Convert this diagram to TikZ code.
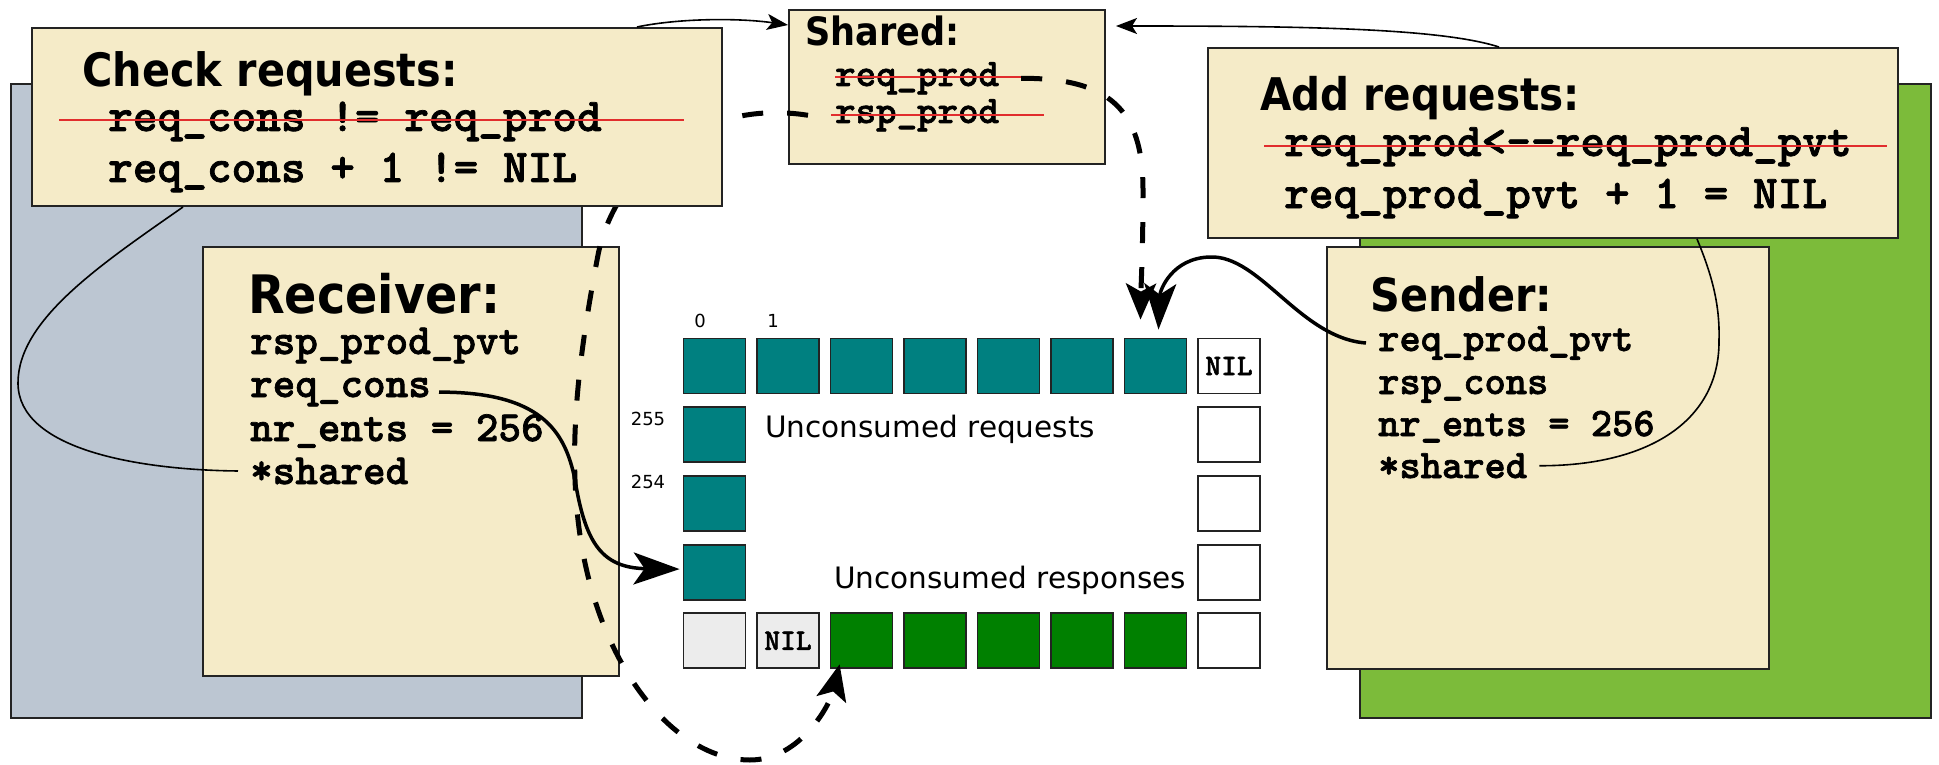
\documentclass[tikz,border=0pt]{standalone}
\usepackage{fontspec}
\usetikzlibrary{arrows.meta,calc}
\newfontfamily\hdfont{DejaVu Sans}[FakeStretch=0.9]
\newfontfamily\lblfont{DejaVu Sans}
\newfontfamily\codefont{lmmonolt10-bold.otf}[FakeBold=1.6]
\definecolor{paper}{RGB}{245,235,200}
\definecolor{rxbg}{RGB}{188,198,210}
\definecolor{txbg}{RGB}{124,187,58}
\definecolor{reqcell}{RGB}{0,128,128}
\definecolor{rspcell}{RGB}{0,128,0}
\definecolor{freecell}{RGB}{236,236,236}
\definecolor{edge}{RGB}{35,35,35}
\definecolor{strikered}{RGB}{225,45,45}
\begin{document}
\begin{tikzpicture}[x=1pt,y=-1pt,
  panel/.style={draw=edge,line width=2pt,anchor=north west,inner sep=0pt},
  head/.style={anchor=base west,inner sep=0pt,font=\hdfont\bfseries\fontsize{#1}{#1}\selectfont},
  code/.style={anchor=base west,inner sep=0pt,font=\codefont\fontsize{#1}{#1}\selectfont},
  cell/.style={draw=edge,line width=1.8pt,anchor=north west,minimum width=62pt,minimum height=55pt,inner sep=0pt,
    font=\codefont\fontsize{30}{30}\selectfont},
  idx/.style={inner sep=0pt,font=\lblfont\fontsize{18}{18}\selectfont},
  ringtext/.style={anchor=base west,inner sep=0pt,font=\lblfont\fontsize{29.5}{29.5}\selectfont},
  strikeout/.style={draw=strikered,line width=1.6pt},
  thinline/.style={draw=black,line width=1.6pt},
  thinarrow/.style={thinline,-{Stealth[length=21pt,width=16pt,inset=5pt]}},
  thickarrow/.style={draw=black,line width=3.5pt,-{Stealth[length=46pt,width=32pt,inset=11pt]}},
  dasharrow/.style={draw=black,line width=5pt,dash pattern=on 21pt off 24pt,-{Stealth[length=36pt,width=30pt,inset=8pt]}}
]
\useasboundingbox (0,0) rectangle (1939,765);

% side panels
\node[panel,fill=rxbg,minimum width=571pt,minimum height=634pt] (rxpanel) at (10,83) {};
\node[panel,fill=txbg,minimum width=571pt,minimum height=634pt] (txpanel) at (1359,83) {};

% receiver / sender / shared / add notes
\node[panel,fill=paper,minimum width=416pt,minimum height=429pt] (rx) at (202,246) {};
\node[panel,fill=paper,minimum width=442pt,minimum height=422pt] (tx) at (1326,246) {};
\node[panel,fill=paper,minimum width=316pt,minimum height=154pt] (sh) at (788,9) {};
\node[panel,fill=paper,minimum width=690pt,minimum height=190pt] (add) at (1207,47) {};

% ring of slots
\foreach \i in {0,...,6} \node[cell,fill=reqcell] (c\i-0) at ({682.6+73.5*\i},337.6) {};
\node[cell,fill=white] (c7-0) at (1197.1,337.6) {NIL};
\foreach \j in {1,2,3} {
  \node[cell,fill=reqcell] (c0-\j) at (682.6,{337.6+68.7*\j}) {};
  \node[cell,fill=white] (c7-\j) at (1197.1,{337.6+68.7*\j}) {};
}
\node[cell,fill=freecell] (c0-4) at (682.6,612.4) {};
\node[cell,fill=freecell] (c1-4) at (756.1,612.4) {NIL};
\foreach \i in {2,...,6} \node[cell,fill=rspcell] (c\i-4) at ({682.6+73.5*\i},612.4) {};
\node[cell,fill=white] (c7-4) at (1197.1,612.4) {};

\node[idx] (i0) at (700,321) {0};
\node[idx] (i1) at (773,321) {1};
\node[idx] (i255) at (648,419) {255};
\node[idx] (i254) at (648,482) {254};
\node[ringtext] (ureq) at (765,437) {Unconsumed requests};
\node[ringtext] (ursp) at (834,588) {Unconsumed responses};

% texts of the notes
\node[head=39] (shh) at (805,46) {Shared:};
\node[code=39] (sh1) at (835,86) {req\_prod};
\node[code=39] (sh2) at (835,123) {rsp\_prod};
\draw[strikeout] (835,77) -- (1036,77);
\draw[strikeout] (831,115) -- (1044,115);

\node[head=45] (addh) at (1260,111) {Add requests:};
\node[code=47] (add1) at (1284,156) {req\_prod<-{}-req\_prod\_pvt};
\node[code=47] (add2) at (1284,208) {req\_prod\_pvt + 1 = NIL};
\draw[strikeout] (1264,146) -- (1887,146);

\node[head=53] (rxh) at (248,313) {Receiver:};
\node[code=43] (rx1) at (250,354) {rsp\_prod\_pvt};
\node[code=43] (rx2) at (250,397) {req\_cons};
\node[code=43] (rx3) at (250,441) {nr\_ents = 256};
\node[code=43] (rx4) at (250,484) {*shared};

\node[head=46] (txh) at (1370,311) {Sender:};
\node[code=40.5] (tx1) at (1378,351) {req\_prod\_pvt};
\node[code=40.5] (tx2) at (1378,394) {rsp\_cons};
\node[code=40.5] (tx3) at (1378,436) {nr\_ents = 256};
\node[code=40.5] (tx4) at (1378,478) {*shared};

% response producer path, running beneath the check note
\draw[dasharrow] ($(sh2.west)+(-27,0)$) .. controls (700,98) and (615,170) .. (598,255)
  .. controls (580,350) and (563,460) .. (585,563)
  .. controls (610,680) and (680,760) .. (750,760)
  .. controls (800,760) and (830,705) .. ($(c2-4.south west)+(10,-5)$);

% check note
\node[panel,fill=paper,minimum width=690pt,minimum height=178pt] (chk) at (31,27) {};
\node[head=46] (chkh) at (82,87) {Check requests:};
\node[code=47] (chk1) at (108,131) {req\_cons != req\_prod};
\node[code=47] (chk2) at (108,182) {req\_cons + 1 != NIL};
\draw[strikeout] (59,120) -- (684,120);

% links to the shared page
\draw[thinarrow] ($(chk.north west)+(606,0)$) .. controls (680,18) and (740,18) .. ($(sh.north west)+(0,16)$);
\draw[thinarrow] ($(add.north west)+(292,0)$) .. controls (1440,28) and (1300,26) .. ($(sh.north east)+(10,17)$);
\draw[thinline] ($(chk.south west)+(152,0)$) .. controls (100,265) and (18,320) .. (18,383)
  .. controls (18,450) and (140,470) .. ($(rx4.west)+(-12,0)$);
\draw[thinline] ($(add.south west)+(490,0)$) .. controls (1712,275) and (1720,305) .. (1719,340)
  .. controls (1720,420) and (1650,466) .. ($(tx4.east)+(12,0)$);

% producer and consumer indices
\draw[dasharrow] ($(sh1.east)+(22,0)$) .. controls (1110,78) and (1143,110) .. (1143,190)
  .. controls (1143,250) and (1141,285) .. ($(c6-0.north)+(-15,-18)$);
\draw[thickarrow] ($(tx1.west)+(-12,0)$) .. controls (1300,338) and (1260,255) .. (1210,257)
  .. controls (1172,258) and (1160,290) .. ($(c6-0.north)+(3,-8)$);
\draw[thickarrow] ($(rx2.east)+(8,0)$) .. controls (540,392) and (565,430) .. (575,480)
  .. controls (585,540) and (600,568) .. ($(c0-3.west)+(-3,-3)$);
\end{tikzpicture}
\end{document}
